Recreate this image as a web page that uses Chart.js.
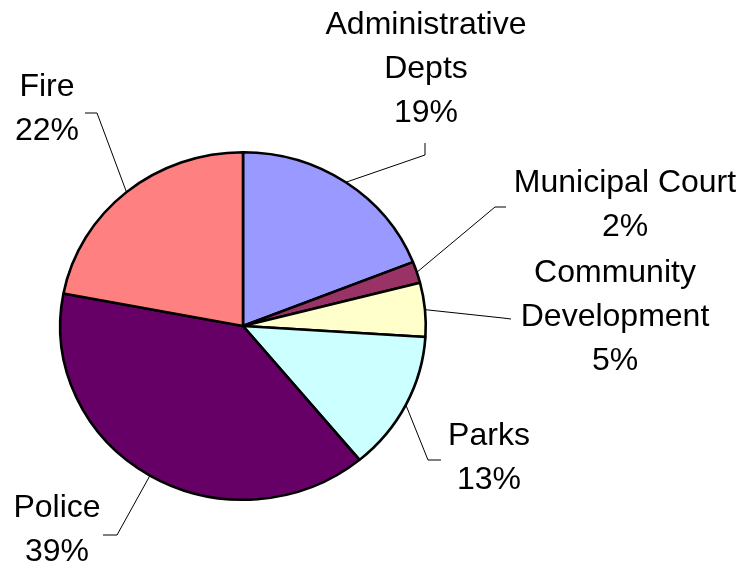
<!DOCTYPE html>
<html>
<head>
<meta charset="utf-8">
<title>Budget by Department</title>
<script src="https://cdn.jsdelivr.net/npm/chart.js@4.4.1/dist/chart.umd.min.js"></script>
<style>
  html, body { margin: 0; padding: 0; background: #fff; }
  canvas { display: block; }
</style>
</head>
<body>
<canvas id="graficoPresupuesto" width="746" height="569"></canvas>
<script>
// Departamentos (cada etiqueta partida en líneas) y su porcentaje del presupuesto
const departamentos = [
  ['Administrative', 'Depts'],
  ['Municipal Court'],
  ['Community', 'Development'],
  ['Parks'],
  ['Police'],
  ['Fire']
];
const porcentajes = [19, 2, 5, 13, 39, 22];
const colores = ['#9999FF', '#993366', '#FFFFCC', '#CCFFFF', '#660066', '#FF8080'];

// Posición de cada etiqueta y recorrido de su línea guía (codo y final)
const posEtiquetas = [
  { x: 426, y: 25,  codo: [425, 155], fin: [425, 143] },
  { x: 625, y: 183, codo: [495, 207], fin: [506, 207] },
  { x: 615, y: 273, codo: [503, 318], fin: [511, 319] },
  { x: 489, y: 436, codo: [428, 460], fin: [441, 460] },
  { x: 57,  y: 508, codo: [117, 535], fin: [103, 535] },
  { x: 47,  y: 87,  codo: [97, 113],  fin: [85, 113] }
];

// El pastel original es algo más ancho que alto
const ESCALA_X = 1.052;
const ALTO_LINEA = 44;

const elipse = {
  id: 'elipse',
  beforeDatasetsDraw(chart) {
    const arco = chart.getDatasetMeta(0).data[0];
    const ctx = chart.ctx;
    ctx.save();
    ctx.translate(arco.x, arco.y);
    ctx.scale(ESCALA_X, 1);
    ctx.translate(-arco.x, -arco.y);
  },
  afterDatasetsDraw(chart) {
    chart.ctx.restore();
  }
};

const etiquetas = {
  id: 'etiquetas',
  afterDraw(chart) {
    const ctx = chart.ctx;
    const total = porcentajes.reduce((a, b) => a + b, 0);
    ctx.save();
    chart.getDatasetMeta(0).data.forEach((arco, i) => {
      const p = posEtiquetas[i];
      const medio = (arco.startAngle + arco.endAngle) / 2;
      const x0 = arco.x + Math.cos(medio) * arco.outerRadius * ESCALA_X;
      const y0 = arco.y + Math.sin(medio) * arco.outerRadius;

      // línea guía
      ctx.strokeStyle = '#000';
      ctx.lineWidth = 1;
      ctx.beginPath();
      ctx.moveTo(x0, y0);
      ctx.lineTo(p.codo[0], p.codo[1]);
      ctx.lineTo(p.fin[0], p.fin[1]);
      ctx.stroke();

      // texto: nombre + porcentaje
      const lineas = departamentos[i].concat([Math.round(porcentajes[i] / total * 100) + '%']);
      ctx.fillStyle = '#000';
      ctx.font = '32px "Liberation Sans", Arial, sans-serif';
      ctx.textAlign = 'center';
      ctx.textBaseline = 'middle';
      lineas.forEach((t, j) => ctx.fillText(t, p.x, p.y + j * ALTO_LINEA));
    });
    ctx.restore();
  }
};

new Chart(document.getElementById('graficoPresupuesto'), {
  type: 'pie',
  data: {
    labels: departamentos.map(l => l.join(' ')),
    datasets: [{
      data: porcentajes,
      backgroundColor: colores,
      borderColor: '#000',
      borderWidth: 2.5,
      hoverOffset: 0
    }]
  },
  options: {
    responsive: false,
    animation: false,
    events: [],
    layout: { padding: { left: 68, right: 328, top: 151, bottom: 68 } },
    plugins: {
      legend: { display: false },
      tooltip: { enabled: false }
    }
  },
  plugins: [elipse, etiquetas]
});
</script>
</body>
</html>
